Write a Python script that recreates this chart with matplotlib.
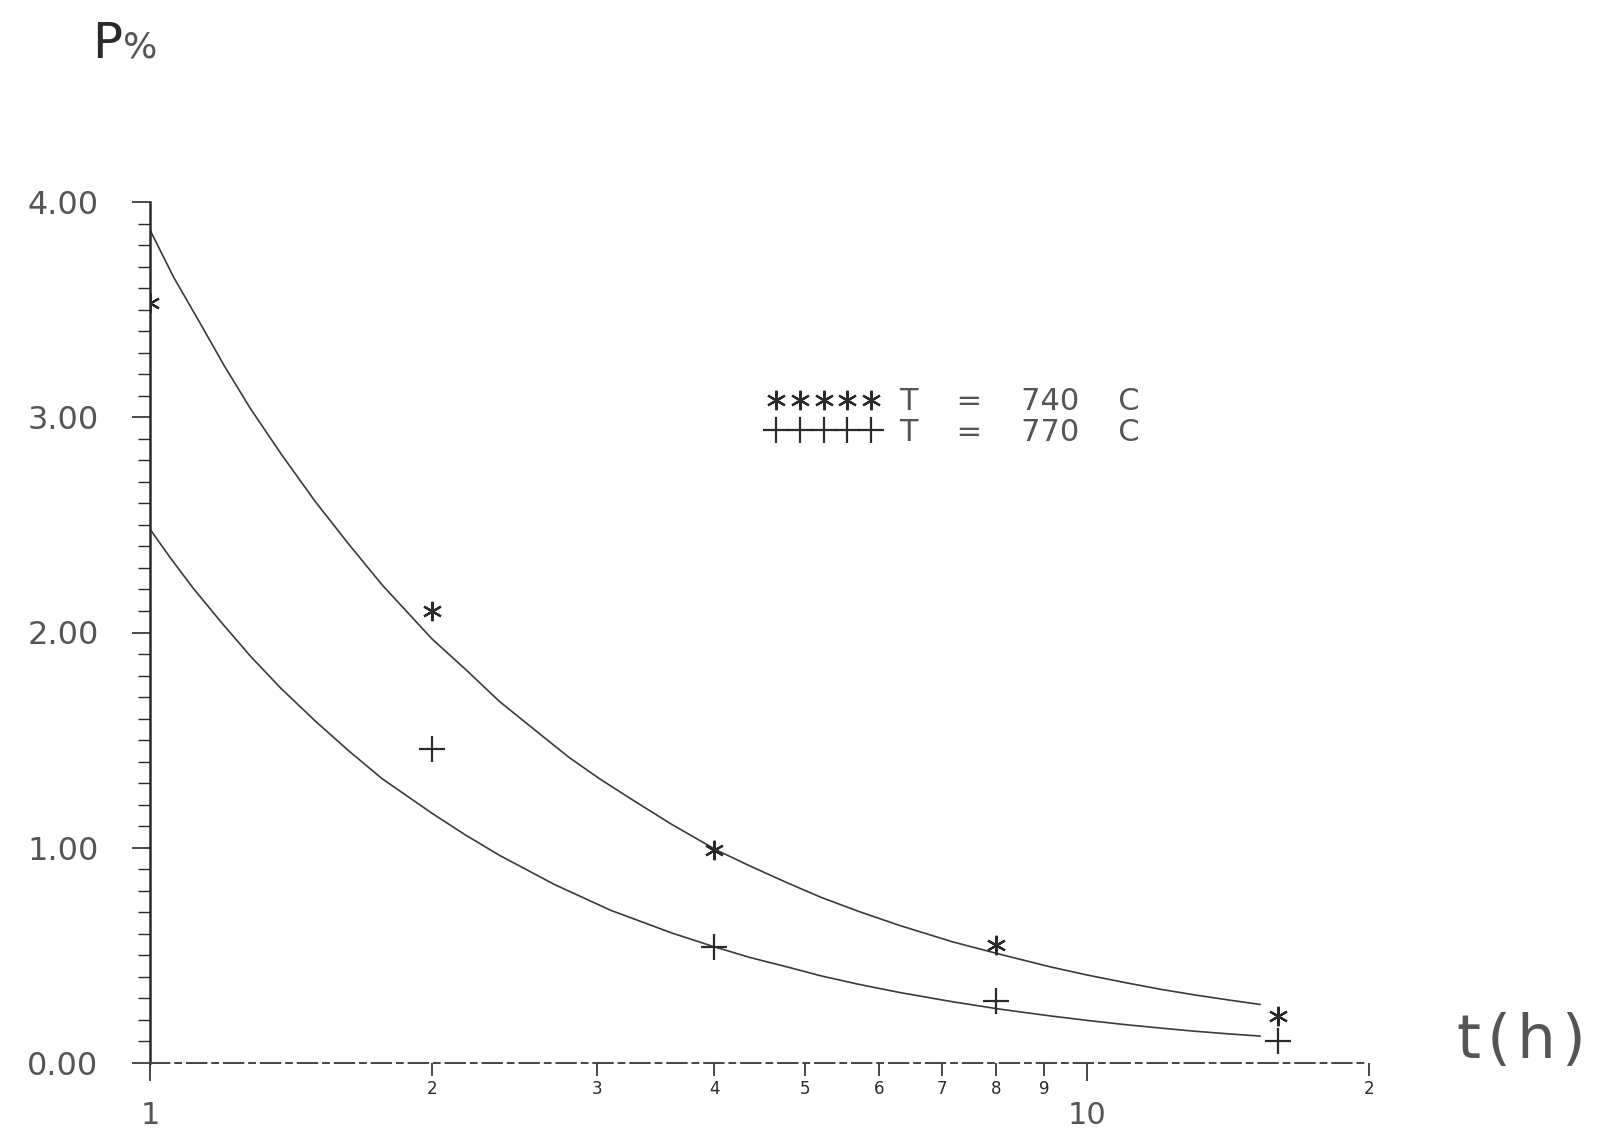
import matplotlib
matplotlib.use("Agg")
import matplotlib.pyplot as plt
from matplotlib.ticker import FixedLocator, FixedFormatter

# measured points (t in hours, P in %)
t_740 = [1, 2, 4, 8, 16]
p_740 = [3.53, 2.10, 0.99, 0.55, 0.22]
t_770 = [2, 4, 8, 16]
p_770 = [1.46, 0.54, 0.29, 0.10]

# fitted curves
t_fit_740 = [1.0, 1.06, 1.13, 1.2, 1.28, 1.38, 1.5, 1.63, 1.77, 2.0, 2.17, 2.36, 2.57, 2.8, 3.02, 3.28, 3.6, 4.02,
             4.37, 4.8, 5.2, 5.7, 6.32, 7.2, 8.08, 9.13, 10.0, 11.0, 12.0, 13.0, 14.1, 15.3]
p_fit_740 = [3.87, 3.65, 3.44, 3.24, 3.04, 2.83, 2.61, 2.41, 2.22, 1.97, 1.83, 1.68, 1.55, 1.42, 1.32, 1.22, 1.11, 0.99,
             0.915, 0.835, 0.77, 0.705, 0.638, 0.562, 0.505, 0.447, 0.409, 0.373, 0.342, 0.317, 0.294, 0.272]
t_fit_770 = [1.0, 1.05, 1.11, 1.19, 1.28, 1.38, 1.5, 1.63, 1.77, 2.0, 2.17, 2.36, 2.7, 3.1, 3.6, 4.0,
             4.37, 4.8, 5.2, 5.7, 6.32, 7.2, 8.08, 9.13, 10.0, 11.0, 12.0, 13.0, 14.1, 15.3]
p_fit_770 = [2.48, 2.35, 2.21, 2.05, 1.89, 1.74, 1.59, 1.45, 1.32, 1.16, 1.06, 0.965, 0.83, 0.71, 0.605, 0.54,
             0.49, 0.445, 0.405, 0.366, 0.327, 0.284, 0.25, 0.219, 0.198, 0.178, 0.162, 0.148, 0.136, 0.125]

y_major = [0, 1, 2, 3, 4]
y_labels = ["0.00", "1.00", "2.00", "3.00", "4.00"]
x_major = [1, 10]
x_major_labels = ["1", "10"]
x_minor = [2, 3, 4, 5, 6, 7, 8, 9, 20]
x_minor_labels = ["2", "3", "4", "5", "6", "7", "8", "9", "2"]

ink = "#2a2a2a"
grey = "#555555"

fig = plt.figure(figsize=(16.02, 11.36), dpi=100)
ax = fig.add_axes([150 / 1602, 1 - 1063 / 1136, (1369 - 150) / 1602, (1063 - 202) / 1136])

ax.plot(t_fit_740, p_fit_740, color="#3a3a3a", lw=1.2)
ax.plot(t_fit_770, p_fit_770, color="#3a3a3a", lw=1.2)
ax.plot(t_740, p_740, ls="none", marker=(6, 2, 0), ms=14, mew=1.6, color=ink,
        label="T    =    740    C", clip_on=True)
ax.plot(t_770, p_770, ls="none", marker="+", ms=19, mew=1.6, color=ink,
        label="T    =    770    C", clip_on=False)

ax.set_xscale("log")
ax.set_xlim(1, 20)
ax.set_ylim(0, 4)

for s in ["top", "right"]:
    ax.spines[s].set_visible(False)
ax.spines["left"].set_color(ink)
ax.spines["left"].set_linewidth(1.8)
ax.spines["bottom"].set_color("#444444")
ax.spines["bottom"].set_linewidth(1.4)
ax.spines["bottom"].set_linestyle((0, (10, 3, 3, 3)))

ax.yaxis.set_major_locator(FixedLocator(y_major))
ax.yaxis.set_major_formatter(FixedFormatter(y_labels))
ax.yaxis.set_minor_locator(FixedLocator([i / 10 for i in range(41)]))
ax.tick_params(axis="y", which="major", length=13, width=1.2, color=ink,
               pad=24, labelsize=23, labelcolor=grey)
ax.tick_params(axis="y", which="minor", length=9, width=1.0, color=ink)

ax.xaxis.set_major_locator(FixedLocator(x_major))
ax.xaxis.set_major_formatter(FixedFormatter(x_major_labels))
ax.xaxis.set_minor_locator(FixedLocator(x_minor))
ax.xaxis.set_minor_formatter(FixedFormatter(x_minor_labels))
ax.tick_params(axis="x", which="major", length=13, width=1.2, color=ink,
               pad=14, labelsize=22, labelcolor=grey)
ax.tick_params(axis="x", which="minor", length=9, width=1.2, color=ink,
               pad=3, labelsize=12, labelcolor=ink)

fig.text(92 / 1602, 1 - 58 / 1136, "P", fontsize=36, color=ink, ha="left", va="baseline")
fig.text(123 / 1602, 1 - 58 / 1136, "%", fontsize=26, color=grey, ha="left", va="baseline")
fig.text(1457 / 1602, 1 - 1058 / 1136, "t\u200a(\u200ah\u200a)", fontsize=44, color=grey,
         ha="left", va="baseline")

ax.legend(loc="upper left", bbox_to_anchor=(752 / 1602, 1 - 372 / 1136),
          bbox_transform=fig.transFigure, frameon=False, numpoints=5,
          handlelength=3.7, handletextpad=0.6, labelspacing=0.05,
          borderpad=0, fontsize=22, labelcolor=grey)

fig.savefig("out.png", dpi=100, facecolor="white")
